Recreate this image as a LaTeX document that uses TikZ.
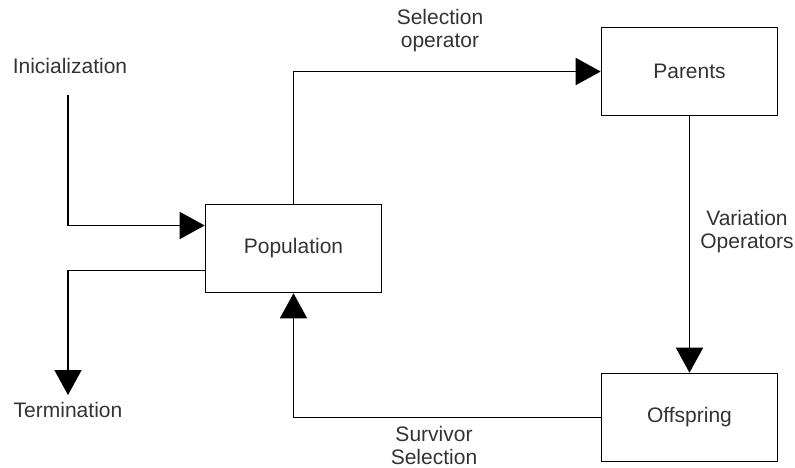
\documentclass[tikz,border=0pt]{standalone}
\usepackage{fontspec}
\setmainfont{Liberation Sans}
\usetikzlibrary{arrows.meta}
\definecolor{txt}{HTML}{333333}
\begin{document}
\begin{tikzpicture}[x=1pt,y=-1pt,
  box/.style={draw, line width=1.6pt, minimum width=176pt, minimum height=88pt, inner sep=0pt, font=\fontsize{21}{24}\selectfont, text=txt},
  lbl/.style={font=\fontsize{21}{23}\selectfont, text=txt, align=center, inner sep=0pt},
  conn/.style={line width=1.6pt, -{Triangle[length=25pt,width=27pt]}},
]
\useasboundingbox (0,0) rectangle (795,467);
\node[box] (pop) at (293.5,248.5) {Population};
\node[box] (par) at (689.5,71.5) {Parents};
\node[box] (off) at (689.5,417.5) {Offspring};
\node[lbl] (init) at (70,66) {Inicialization};
\node[lbl] (term) at (68,410) {Termination};
\node[lbl] (sel) at (440,31) {Selection\\operator};
\node[lbl] (var) at (747,232) {Variation\\Operators};
\node[lbl] (surv) at (434,445) {Survivor\\Selection};
\coordinate (i0) at (68,95);
\coordinate (t0) at (68,395);
\draw[conn] (i0) |- ([yshift=23pt]pop.west);
\draw[conn] ([yshift=-22pt]pop.west) -| (t0);
\draw[conn] (pop.north) |- (par.west);
\draw[conn] (par.south) -- (off.north);
\draw[conn] (off.west) -| (pop.south);
\end{tikzpicture}
\end{document}
